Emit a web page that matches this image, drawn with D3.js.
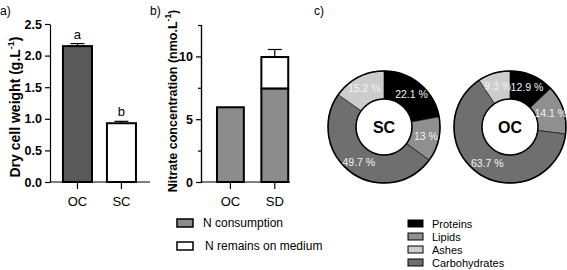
<!DOCTYPE html>
<html><head><meta charset="utf-8">
<script src="https://cdn.jsdelivr.net/npm/d3@7"></script>
<style>body{margin:0;background:#fff}svg{display:block;font-family:"Liberation Sans",Arial,sans-serif}</style>
</head><body><svg id="c" width="567" height="270"></svg>
<script>
// Panel a
const aCats = ["OC", "SC"];
const aValues = [2.15, 0.93];
const aErrors = [0.04, 0.03];
const aLetters = ["a", "b"];
const aTicks = [0, 0.5, 1.0, 1.5, 2.0, 2.5];
// Panel b
const bCats = ["OC", "SD"];
const bConsumption = [5.95, 7.45];
const bRemains = [0, 2.5];
const bErrors = [0, 0.6];
const bTicks = [0, 5, 10];
const bMinorTicks = [2.5, 7.5, 12.5];
const bLegend = ["N consumption", "N remains on medium"];
// Panel c
const cComponents = ["Proteins", "Lipids", "Carbohydrates", "Ashes"];
const cSC = [22.1, 13, 49.7, 15.2];
const cOC = [12.9, 14.1, 63.7, 9.3];
const cLegendOrder = ["Proteins", "Lipids", "Ashes", "Carbohydrates"];

const svg = d3.select("#c");
const font = '"Liberation Sans",Arial,sans-serif';

// ---------- Panel a ----------
{
  const x = d3.scaleBand().domain(aCats).range([50, 150]).paddingInner(0.34).paddingOuter(0.307).align(0.48);
  const y = d3.scaleLinear().domain([0, 2.5]).range([182, 24]);
  const g = svg.append("g");
  g.append("text").attr("x", 0).attr("y", 15).attr("font-size", 12).text("a)");
  const colors = ["#595959", "#ffffff"];
  aCats.forEach((c, i) => {
    const top = y(aValues[i] + aErrors[i]);
    const xc = x(c) + x.bandwidth() / 2;
    g.append("line").attr("x1", xc).attr("x2", xc).attr("y1", top).attr("y2", y(aValues[i])).attr("stroke", "#000").attr("stroke-width", 1.2);
    g.append("line").attr("x1", xc - 7).attr("x2", xc + 7).attr("y1", top).attr("y2", top).attr("stroke", "#000").attr("stroke-width", 1.2);
    g.append("rect").attr("x", x(c)).attr("y", y(aValues[i])).attr("width", x.bandwidth()).attr("height", y(0) - y(aValues[i]))
      .attr("fill", colors[i]).attr("stroke", "#000").attr("stroke-width", 2);
    g.append("text").attr("x", xc).attr("y", top - 5).attr("text-anchor", "middle").attr("font-size", 13).text(aLetters[i]);
  });
  const ya = g.append("g").attr("transform", "translate(50,0)").call(d3.axisLeft(y).tickValues(aTicks).tickFormat(d3.format(".1f")).tickSize(5).tickSizeOuter(0));
  ya.selectAll("text").attr("font-size", 12.5).attr("font-weight", "bold").attr("font-family", font).attr("fill", "#000");
  ya.selectAll("line,path").attr("stroke", "#000").attr("stroke-width", 1.2);
  const xa = g.append("g").attr("transform", "translate(0,182)").call(d3.axisBottom(x).tickSize(7).tickSizeOuter(0).tickPadding(8));
  xa.select("path").attr("d", "M50,0H150");
  xa.selectAll("text").attr("font-size", 13).attr("font-family", font).attr("fill", "#000");
  xa.selectAll("line,path").attr("stroke", "#000").attr("stroke-width", 1.2);
  g.append("text").attr("transform", "translate(20,107) rotate(-90)").attr("text-anchor", "middle")
    .attr("font-size", 14).attr("font-weight", "bold").html('Dry cell weight (g.L<tspan dy="-6" font-size="9">-1</tspan><tspan dy="6">)</tspan>');
}

// ---------- Panel b ----------
{
  const x = d3.scaleBand().domain(bCats).range([201, 290]).paddingInner(0.395).paddingOuter(0.2).align(0.9);
  const y = d3.scaleLinear().domain([0, 12.5]).range([182, 25]);
  const g = svg.append("g");
  g.append("text").attr("x", 150).attr("y", 15).attr("font-size", 12).text("b)");
  bCats.forEach((c, i) => {
    const xc = x(c) + x.bandwidth() / 2;
    const total = bConsumption[i] + bRemains[i];
    if (bErrors[i] > 0) {
      const top = y(total + bErrors[i]);
      g.append("line").attr("x1", xc).attr("x2", xc).attr("y1", top).attr("y2", y(total)).attr("stroke", "#000").attr("stroke-width", 1.2);
      g.append("line").attr("x1", xc - 7).attr("x2", xc + 7).attr("y1", top).attr("y2", top).attr("stroke", "#000").attr("stroke-width", 1.2);
    }
    g.append("rect").attr("x", x(c)).attr("y", y(bConsumption[i])).attr("width", x.bandwidth()).attr("height", y(0) - y(bConsumption[i]))
      .attr("fill", "#8c8c8c").attr("stroke", "#000").attr("stroke-width", 2);
    if (bRemains[i] > 0) {
      g.append("rect").attr("x", x(c)).attr("y", y(total)).attr("width", x.bandwidth()).attr("height", y(bConsumption[i]) - y(total))
        .attr("fill", "#fff").attr("stroke", "#000").attr("stroke-width", 2);
    }
  });
  const ya = g.append("g").attr("transform", "translate(201,0)").call(d3.axisLeft(y).tickValues(bTicks).tickSize(5).tickSizeOuter(0));
  g.append("g").attr("transform", "translate(201,0)").call(d3.axisLeft(y).tickValues(bMinorTicks).tickSize(3).tickFormat(""))
    .selectAll("line,path").attr("stroke", "#000").attr("stroke-width", 1.2);
  ya.selectAll("text").attr("font-size", 12.5).attr("font-weight", "bold").attr("font-family", font).attr("fill", "#000");
  ya.selectAll("line,path").attr("stroke", "#000").attr("stroke-width", 1.2);
  const xa = g.append("g").attr("transform", "translate(0,182)").call(d3.axisBottom(x).tickSize(7).tickSizeOuter(0).tickPadding(8));
  xa.select("path").attr("d", "M201,0H290");
  xa.selectAll("text").attr("font-size", 13).attr("font-family", font).attr("fill", "#000");
  xa.selectAll("line,path").attr("stroke", "#000").attr("stroke-width", 1.2);
  g.append("text").attr("transform", "translate(177,101) rotate(-90)").attr("text-anchor", "middle")
    .attr("font-size", 12.5).attr("font-weight", "bold").html('Nitrate concentration (nmo.L<tspan dy="-6" font-size="8.5">-1</tspan><tspan dy="6">)</tspan>');
  const legFill = ["#8c8c8c", "#fff"];
  bLegend.forEach((t, i) => {
    const yy = 219 + i * 23;
    g.append("rect").attr("x", 177).attr("y", yy).attr("width", 16).attr("height", 8).attr("fill", legFill[i]).attr("stroke", "#000").attr("stroke-width", 1.5);
    g.append("text").attr("x", 203 + i * 2).attr("y", yy + 8).attr("font-size", 12).text(t);
  });
}

// ---------- Panel c ----------
{
  const g = svg.append("g");
  g.append("text").attr("x", 314).attr("y", 15).attr("font-size", 12).text("c)");
  const color = d3.scaleOrdinal().domain(cComponents).range(["#000000", "#8f8f8f", "#6f6f6f", "#cccccc"]);
  const pie = d3.pie().sort(null).value(d => d.v);
  const arc = d3.arc().innerRadius(28).outerRadius(56);
  const labelArc = d3.arc().innerRadius(43).outerRadius(43);
  const donut = (vals, cx, name) => {
    const gg = g.append("g").attr("transform", `translate(${cx},127)`);
    const data = pie(cComponents.map((c, i) => ({ c, v: vals[i] })));
    gg.selectAll("path").data(data).join("path").attr("d", arc).attr("fill", d => color(d.data.c))
      .attr("stroke", "#000").attr("stroke-width", 0.6);
    gg.append("circle").attr("r", 56).attr("fill", "none").attr("stroke", "#000").attr("stroke-width", 1.5);
    gg.append("circle").attr("r", 28).attr("fill", "#fff").attr("stroke", "#000").attr("stroke-width", 1.5);
    gg.selectAll("text.l").data(data).join("text").attr("class", "l")
      .attr("transform", d => `translate(${labelArc.centroid(d)})`).attr("text-anchor", "middle").attr("dy", "0.35em")
      .attr("font-size", 10.5).attr("fill", "#f2f2f2").text(d => d.data.v + " %");
    gg.append("text").attr("text-anchor", "middle").attr("dy", "0.35em").attr("font-size", 16).attr("font-weight", "bold").text(name);
  };
  donut(cSC, 384, "SC");
  donut(cOC, 510, "OC");
  cLegendOrder.forEach((t, i) => {
    const yy = 220 + i * 13;
    g.append("rect").attr("x", 408).attr("y", yy).attr("width", 15).attr("height", 7).attr("fill", color(t)).attr("stroke", "#000").attr("stroke-width", 1);
    g.append("text").attr("x", 432).attr("y", yy + 8).attr("font-size", 11).text(t);
  });
}
</script></body></html>
